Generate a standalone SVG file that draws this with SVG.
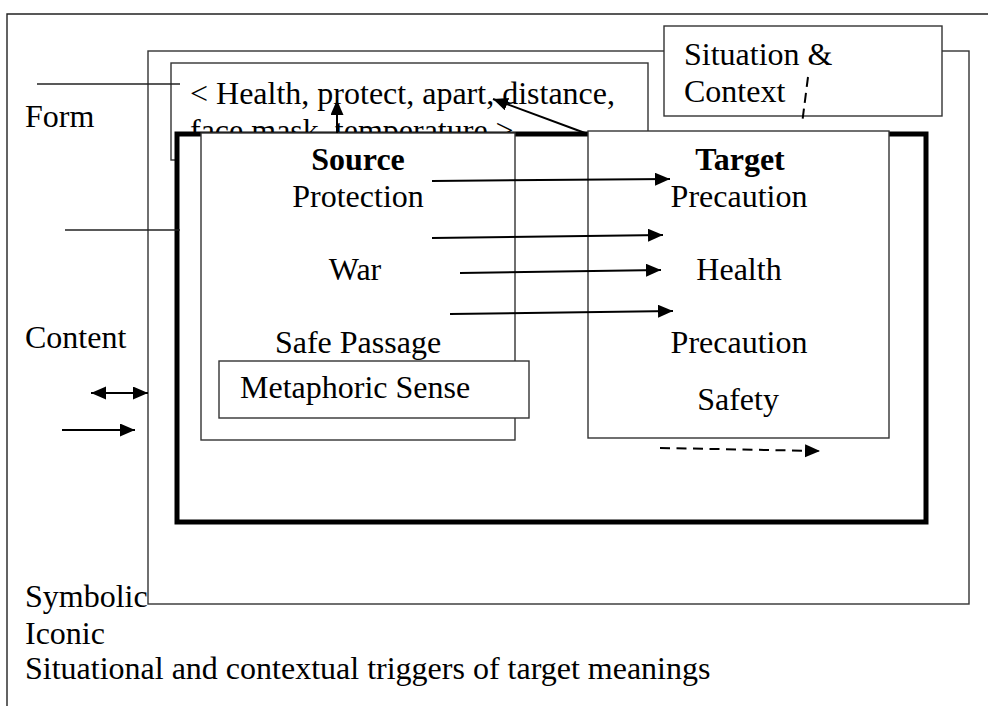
<svg xmlns="http://www.w3.org/2000/svg" width="988" height="706" viewBox="0 0 988 706">
  <style>
    .t { font-family: "Liberation Serif", "Times New Roman", serif; font-size: 32px; fill: #000; }
    .b { font-weight: bold; }
    .mid { text-anchor: middle; }
    .thin { fill: #fff; stroke: #333; stroke-width: 1.4; }
    .ln { fill: none; stroke: #222; stroke-width: 1.4; }
    .arr { fill: none; stroke: #000; stroke-width: 2; }
  </style>
  <defs>
    <marker id="head" markerUnits="userSpaceOnUse" markerWidth="16" markerHeight="14" refX="15" refY="6.5" orient="auto-start-reverse">
      <path d="M0,0 L15,6.5 L0,13 Z" fill="#000"/>
    </marker>
    <!-- second form line is hidden below the conceptual frame's top edge -->
    <clipPath id="formClip">
      <rect x="171" y="63" width="477" height="69"/>
    </clipPath>
  </defs>

  <rect width="988" height="706" fill="#fff"/>

  <!-- page frame -->
  <path class="ln" d="M7,706 V14 H988"/>

  <!-- outer frame -->
  <g id="frame">
    <rect class="thin" x="148" y="51" width="821" height="553"/>
  </g>

  <!-- form box -->
  <g id="form">
    <rect class="thin" x="171" y="63" width="477" height="97"/>
    <text class="t" x="190" y="104">&lt; Health, protect, apart, distance,</text>
    <text class="t" x="190" y="141" clip-path="url(#formClip)">face mask, temperature &gt;</text>
  </g>

  <!-- situation and context -->
  <g id="situation">
    <rect class="thin" x="664" y="26" width="278" height="90"/>
    <text class="t" x="684" y="65">Situation &amp;</text>
    <text class="t" x="684" y="102">Context</text>
  </g>

  <!-- conceptual frame -->
  <g id="concept">
    <rect x="177" y="134" width="749" height="388" fill="#fff" stroke="#000" stroke-width="5"/>
  </g>

  <!-- source domain -->
  <g id="source">
    <rect class="thin" x="201" y="133" width="314" height="307"/>
    <text class="t b mid" x="358" y="170">Source</text>
    <text class="t mid" x="358" y="207">Protection</text>
    <text class="t mid" x="355" y="280">War</text>
    <text class="t mid" x="358" y="353">Safe Passage</text>
  </g>

  <!-- metaphoric sense -->
  <g id="sense">
    <rect class="thin" x="219" y="361" width="310" height="57"/>
    <text class="t" x="240" y="398">Metaphoric Sense</text>
  </g>

  <!-- target domain -->
  <g id="target">
    <rect class="thin" x="588" y="131" width="301" height="307"/>
    <text class="t b mid" x="740" y="170">Target</text>
    <text class="t mid" x="739" y="207">Precaution</text>
    <text class="t mid" x="739" y="280">Health</text>
    <text class="t mid" x="739" y="353">Precaution</text>
    <text class="t mid" x="738" y="410">Safety</text>
  </g>

  <!-- side labels -->
  <g id="labels">
    <text class="t" x="25" y="127">Form</text>
    <text class="t" x="25" y="348">Content</text>
    <text class="t" x="25" y="607">Symbolic</text>
    <text class="t" x="25" y="644">Iconic</text>
    <text class="t" x="25" y="679">Situational and contextual triggers of target meanings</text>
  </g>

  <!-- connectors -->
  <g id="connectors">
    <line class="ln" x1="37" y1="84" x2="180" y2="84"/>
    <line class="ln" x1="65" y1="230" x2="180" y2="230"/>
    <line class="arr" x1="337" y1="133" x2="337" y2="100" marker-end="url(#head)"/>
    <line class="arr" x1="585" y1="133" x2="493" y2="99" marker-end="url(#head)"/>
    <line class="arr" x1="808" y1="77" x2="802" y2="124" stroke-dasharray="10 6"/>
    <line class="arr" x1="432" y1="181" x2="670" y2="179" marker-end="url(#head)"/>
    <line class="arr" x1="432" y1="238" x2="663" y2="235" marker-end="url(#head)"/>
    <line class="arr" x1="460" y1="273" x2="661" y2="270" marker-end="url(#head)"/>
    <line class="arr" x1="450" y1="314" x2="673" y2="311" marker-end="url(#head)"/>
    <line class="arr" x1="660" y1="448" x2="820" y2="451" stroke-dasharray="10 6.5" marker-end="url(#head)"/>
    <line class="arr" x1="91" y1="393" x2="148" y2="393" marker-start="url(#head)" marker-end="url(#head)"/>
    <line class="arr" x1="62" y1="430" x2="135" y2="430" marker-end="url(#head)"/>
  </g>
</svg>
